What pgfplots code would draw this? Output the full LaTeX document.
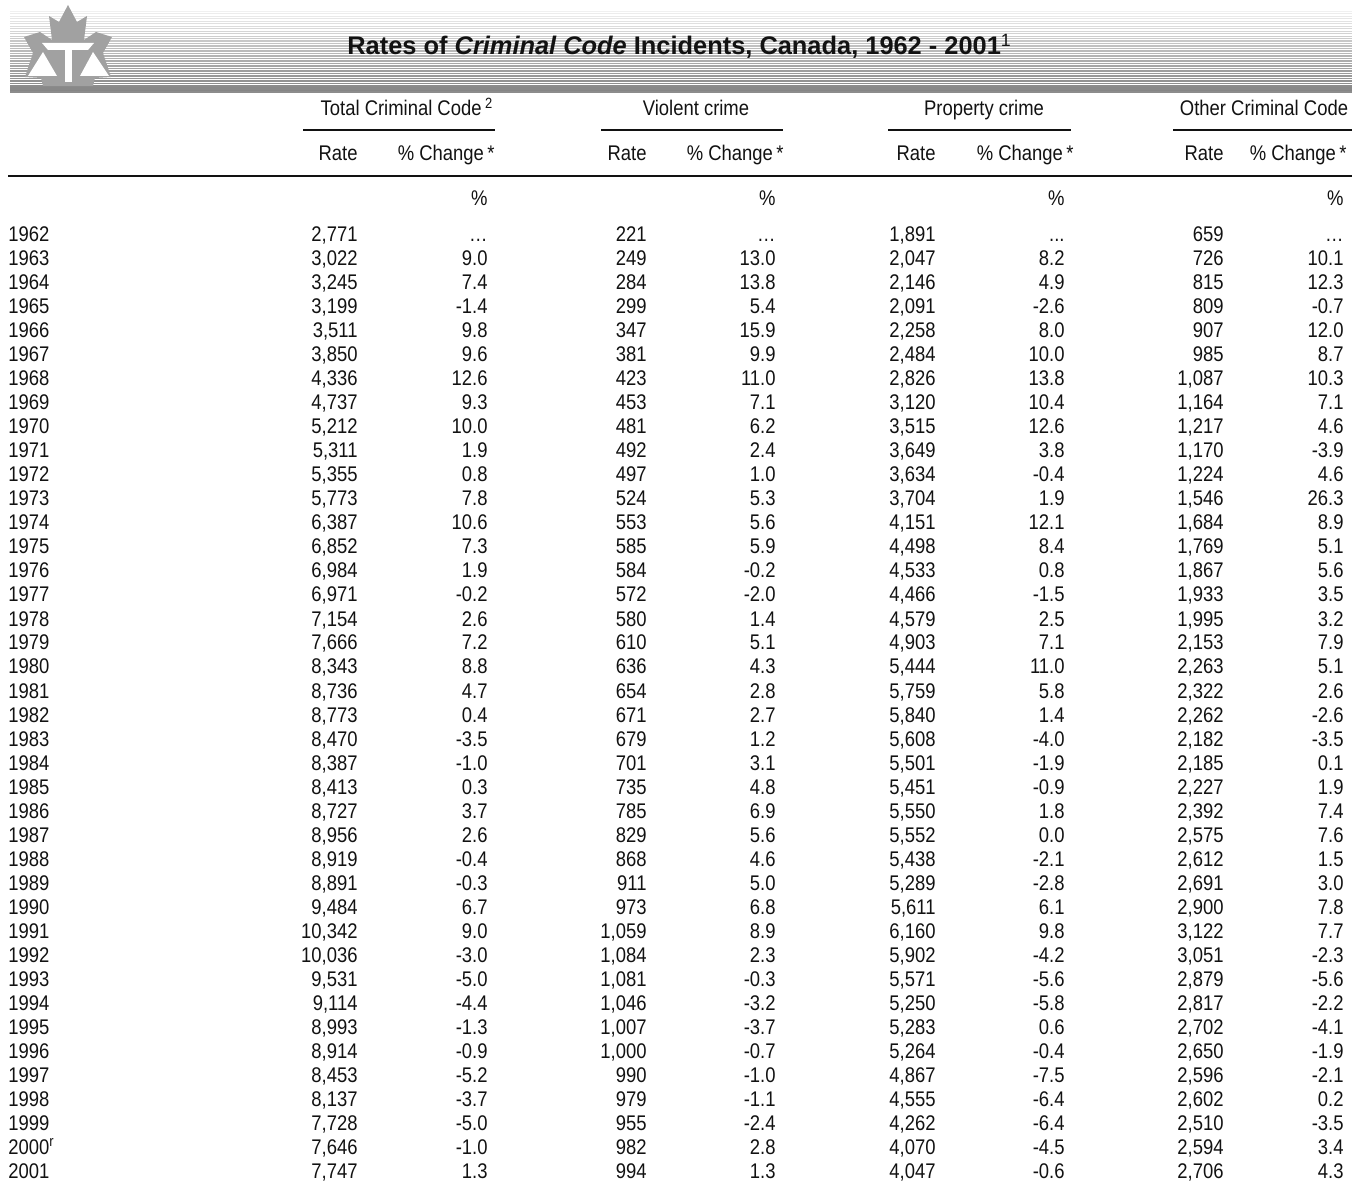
\documentclass[border=0pt]{standalone}
\usepackage{fontspec}
\setmainfont{Liberation Sans}[FakeStretch=0.87]
\newfontfamily\titlefont{Liberation Sans}
\usepackage{pgfplots}
\usepackage{pgfplotstable}
\pgfplotsset{compat=1.18}
\definecolor{ink}{gray}{0.07}
\definecolor{leaf}{gray}{0.63}

% Rates per 100,000 population and % change from previous year
\pgfplotstableread{
year tr tc vr vc pr pc or oc
1962 2,771 {\dots} 221 {\dots} 1,891 ... 659 {\dots}
1963 3,022 9.0 249 13.0 2,047 8.2 726 10.1
1964 3,245 7.4 284 13.8 2,146 4.9 815 12.3
1965 3,199 -1.4 299 5.4 2,091 -2.6 809 -0.7
1966 3,511 9.8 347 15.9 2,258 8.0 907 12.0
1967 3,850 9.6 381 9.9 2,484 10.0 985 8.7
1968 4,336 12.6 423 11.0 2,826 13.8 1,087 10.3
1969 4,737 9.3 453 7.1 3,120 10.4 1,164 7.1
1970 5,212 10.0 481 6.2 3,515 12.6 1,217 4.6
1971 5,311 1.9 492 2.4 3,649 3.8 1,170 -3.9
1972 5,355 0.8 497 1.0 3,634 -0.4 1,224 4.6
1973 5,773 7.8 524 5.3 3,704 1.9 1,546 26.3
1974 6,387 10.6 553 5.6 4,151 12.1 1,684 8.9
1975 6,852 7.3 585 5.9 4,498 8.4 1,769 5.1
1976 6,984 1.9 584 -0.2 4,533 0.8 1,867 5.6
1977 6,971 -0.2 572 -2.0 4,466 -1.5 1,933 3.5
1978 7,154 2.6 580 1.4 4,579 2.5 1,995 3.2
1979 7,666 7.2 610 5.1 4,903 7.1 2,153 7.9
1980 8,343 8.8 636 4.3 5,444 11.0 2,263 5.1
1981 8,736 4.7 654 2.8 5,759 5.8 2,322 2.6
1982 8,773 0.4 671 2.7 5,840 1.4 2,262 -2.6
1983 8,470 -3.5 679 1.2 5,608 -4.0 2,182 -3.5
1984 8,387 -1.0 701 3.1 5,501 -1.9 2,185 0.1
1985 8,413 0.3 735 4.8 5,451 -0.9 2,227 1.9
1986 8,727 3.7 785 6.9 5,550 1.8 2,392 7.4
1987 8,956 2.6 829 5.6 5,552 0.0 2,575 7.6
1988 8,919 -0.4 868 4.6 5,438 -2.1 2,612 1.5
1989 8,891 -0.3 911 5.0 5,289 -2.8 2,691 3.0
1990 9,484 6.7 973 6.8 5,611 6.1 2,900 7.8
1991 10,342 9.0 1,059 8.9 6,160 9.8 3,122 7.7
1992 10,036 -3.0 1,084 2.3 5,902 -4.2 3,051 -2.3
1993 9,531 -5.0 1,081 -0.3 5,571 -5.6 2,879 -5.6
1994 9,114 -4.4 1,046 -3.2 5,250 -5.8 2,817 -2.2
1995 8,993 -1.3 1,007 -3.7 5,283 0.6 2,702 -4.1
1996 8,914 -0.9 1,000 -0.7 5,264 -0.4 2,650 -1.9
1997 8,453 -5.2 990 -1.0 4,867 -7.5 2,596 -2.1
1998 8,137 -3.7 979 -1.1 4,555 -6.4 2,602 0.2
1999 7,728 -5.0 955 -2.4 4,262 -6.4 2,510 -3.5
2000\textsuperscript{r} 7,646 -1.0 982 2.8 4,070 -4.5 2,594 3.4
2001 7,747 1.3 994 1.3 4,047 -0.6 2,706 4.3
}\crime

\pgfplotsset{
  cell/.style={forget plot, draw=none, mark=none, nodes near coords,
    point meta=explicit symbolic,
    every node near coord/.append style={inner sep=0pt,
      font=\fontsize{10.6}{12}\selectfont, text=ink}},
}
\tikzset{hd/.style={inner sep=0pt, font=\fontsize{10.6}{12}\selectfont, text=ink}}
% #1 right (or left) edge in px, #2 column, #3 anchor
\newcommand\col[3]{%
  \addplot[cell, every node near coord/.append style={anchor=#3}]
    table[x expr=#1, y expr=242+24*\coordindex, meta=#2] {\crime};}

\begin{document}
\begin{tikzpicture}
\begin{axis}[scale only axis, width=679.5pt, height=593pt,
  xmin=0, xmax=1359, ymin=0, ymax=1186, y dir=reverse,
  hide axis, clip=false]
\path (0,0) rectangle (1359,1186);

% striped title band
\foreach \i in {0,...,32}{
  \pgfmathsetmacro\yy{11+2.5*\i}
  \pgfmathsetmacro\gg{6+42*\i/32}
  \pgfmathsetmacro\ww{0.2+0.85*\i/32}
  \edef\temp{\noexpand\draw[line width=\ww pt, color=black!\gg] (10,\yy) -- (1352,\yy);}
  \temp
}
\draw[line width=1pt, black!45] (10,92) -- (1352,92);

% logo
\fill[leaf] (68,5) -- (77,22) -- (87,16) -- (84,40) -- (96,32) -- (112,37)
  -- (103,53) -- (111,77) -- (95,78) -- (93,86) -- (43,86) -- (41,78)
  -- (25,77) -- (33,53) -- (24,37) -- (40,32) -- (52,40) -- (49,16)
  -- (59,22) -- cycle;
\fill[white] (42,43) -- (94,43) -- (88,50) -- (48,50) -- cycle;
\fill[white] (65,50) rectangle (72,82);
\fill[white] (43,52) -- (28,76) -- (57,76) -- cycle;
\fill[white] (93,52) -- (80,76) -- (109,76) -- cycle;

\node[anchor=base west, inner sep=0pt, text=ink,
  font=\titlefont\fontsize{12.7}{15}\selectfont\bfseries] at (347,55)
  {Rates of \textit{Criminal Code} Incidents, Canada, 1962 - 2001\textsuperscript{\mdseries 1}};

% column heads
\node[hd, anchor=base] at (407,116) {Total Criminal Code\,\textsuperscript{2}};
\node[hd, anchor=base] at (696,116) {Violent crime};
\node[hd, anchor=base] at (984,116) {Property crime};
\node[hd, anchor=base] at (1264,116) {Other Criminal Code};
\draw[ink, line width=0.75pt] (303,130) -- (495,130);
\draw[ink, line width=0.75pt] (601,130) -- (783,130);
\draw[ink, line width=0.75pt] (888,130) -- (1071,130);
\draw[ink, line width=0.75pt] (1173,130) -- (1352,130);
\foreach \r/\c in {358/495, 647/784, 936/1074, 1224/1347}{
  \edef\temp{\noexpand\node[hd, anchor=base east] at (\r,161) {Rate};
    \noexpand\node[hd, anchor=base east] at (\c,161) {\noexpand\% Change\noexpand\,*};}
  \temp
}
\draw[ink, line width=1pt] (8,176) -- (1352,176);
\foreach \c in {488, 776, 1065, 1344}{
  \edef\temp{\noexpand\node[hd, anchor=base east] at (\c,206) {\noexpand\%};}
  \temp
}

% table body
\col{8}{year}{base west}
\col{358}{tr}{base east}
\col{488}{tc}{base east}
\col{647}{vr}{base east}
\col{776}{vc}{base east}
\col{936}{pr}{base east}
\col{1065}{pc}{base east}
\col{1224}{or}{base east}
\col{1344}{oc}{base east}
\end{axis}
\end{tikzpicture}
\end{document}
